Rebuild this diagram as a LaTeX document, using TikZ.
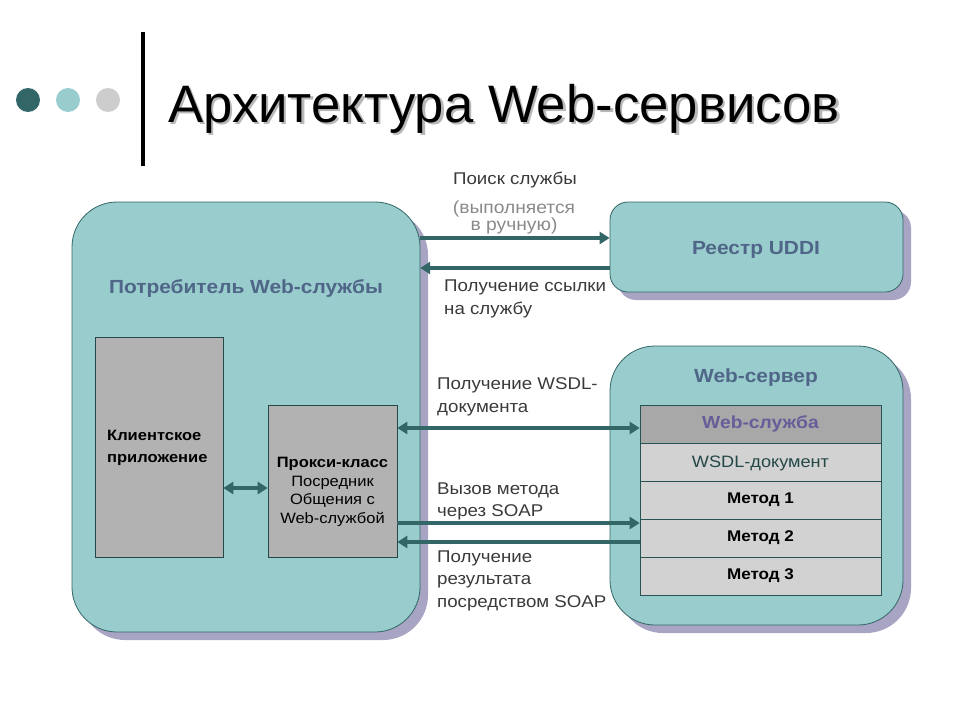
\documentclass[tikz,border=0pt]{standalone}
\usepackage{fontspec}
\setmainfont{Liberation Sans}
\newfontfamily\widefont[FakeStretch=1.1]{Liberation Sans}
\usetikzlibrary{arrows.meta}
\definecolor{tealfill}{HTML}{99CCCC}
\definecolor{tealdark}{HTML}{336666}
\definecolor{shadowc}{HTML}{A8A4C4}
\definecolor{slate}{HTML}{4F6688}
\definecolor{boxgray}{HTML}{B2B2B2}
\definecolor{rowgray}{HTML}{D2D2D2}
\definecolor{rowdark}{HTML}{A8A8A8}
\definecolor{purpletxt}{HTML}{665E99}
\definecolor{lbl}{HTML}{3A3A3A}
\definecolor{lbllight}{HTML}{8A8A8A}
\definecolor{dotgray}{HTML}{CCCCCC}
\definecolor{dotlight}{HTML}{99CCCC}
\definecolor{dotdark}{HTML}{336666}
\tikzset{
  bigbox/.style={draw=tealdark, line width=0.8pt, fill=tealfill},
  graybox/.style={draw=tealdark!70!black, line width=0.6pt, fill=boxgray, inner sep=0pt},
  rowbox/.style={draw=tealdark!80!black, line width=0.6pt, fill=rowgray, minimum width=241pt, minimum height=38pt, inner sep=0pt},
  conn/.style={draw=tealdark, line width=3.8pt, -{Triangle[length=10pt,width=12pt]}},
  dconn/.style={draw=tealdark, line width=3.8pt, {Triangle[length=10pt,width=12pt]}-{Triangle[length=10pt,width=12pt]}},
  lbltext/.style={text=lbl, font=\widefont\fontsize{17}{22.5}\selectfont, align=left, inner sep=0pt},
  headtext/.style={text=slate, font=\widefont\fontsize{19}{22}\selectfont\bfseries, inner sep=0pt},
  rowtext/.style={font=\widefont\fontsize{15.5}{20}\selectfont\bfseries, inner sep=0pt},
}
\begin{document}
\begin{tikzpicture}[x=1pt,y=-1pt]
\useasboundingbox[fill=white] (0,0) rectangle (960,720);
% header
\fill[dotdark] (28,100) circle (12);
\fill[dotlight] (68,100) circle (12);
\fill[dotgray] (108,100) circle (12);
\draw[line width=4pt] (143,32) -- (143,166);
\node (title) [anchor=base west, text=black, font=\fontsize{52.7}{56}\selectfont, inner sep=0pt] at (168,122)
  {\rlap{\hspace{2.5pt}\raisebox{-2.5pt}{\color{black!28}Архитектура Web-сервисов}}Архитектура Web-сервисов};

% consumer box
\fill[shadowc, rounded corners=45pt] (80,210) rectangle (428,640);
\path[bigbox, rounded corners=45pt] (72,202) rectangle (420,632);
\node (consumer) [minimum width=348pt, minimum height=430pt, inner sep=0pt] at (246,417) {};
\node (consumerlbl) [headtext] at (246,288) {Потребитель Web-службы};
\node (client) [graybox, minimum width=128pt, minimum height=220pt] at (159,447) {};
\node (clientlbl) [anchor=west, align=left, font=\widefont\fontsize{15}{22}\selectfont\bfseries, inner sep=0pt] at (107,448) {Клиентское\\приложение};
\node (proxy) [graybox, minimum width=129pt, minimum height=152pt] at (332.5,481) {};
\node (proxylbl) [align=center, font=\widefont\fontsize{15}{18.7}\selectfont, inner sep=0pt] at (332.5,492) {\textbf{Прокси-класс}\\Посредник\\Общения с\\Web-службой};

% UDDI box
\fill[shadowc, rounded corners=18pt] (618,210) rectangle (911,300);
\node (uddi) [bigbox, rounded corners=18pt, minimum width=293pt, minimum height=90pt, inner sep=0pt] at (756.5,247) {};
\node (uddilbl) [headtext] at (756,250) {Реестр UDDI};

% web server box
\fill[shadowc, rounded corners=45pt] (618,354) rectangle (911,633);
\node (server) [bigbox, rounded corners=45pt, minimum width=293pt, minimum height=279pt, inner sep=0pt] at (756.5,485.5) {};
\node (serverlbl) [headtext] at (756,378) {Web-сервер};
\node (ws) [rowbox, fill=rowdark] at (760.5,424) {};
\node (wslbl) [text=purpletxt, font=\widefont\fontsize{17.5}{20}\selectfont\bfseries, inner sep=0pt] at (760.5,424) {Web-служба};
\node (wsdl) [rowbox] at (760.5,462) {};
\node (wsdllbl) [text=tealdark!70!black, font=\widefont\fontsize{16.5}{20}\selectfont, inner sep=0pt] at (760.5,463) {WSDL-документ};
\node (m1) [rowbox] at (760.5,500) {};
\node (m1lbl) [rowtext] at (760.5,500) {Метод 1};
\node (m2) [rowbox] at (760.5,538) {};
\node (m2lbl) [rowtext] at (760.5,538) {Метод 2};
\node (m3) [rowbox] at (760.5,576) {};
\node (m3lbl) [rowtext] at (760.5,576) {Метод 3};

% connectors
\draw[conn] (consumer.east |- 0,238) -- (uddi.west |- 0,238);
\draw[conn] (uddi.west |- 0,268) -- (consumer.east |- 0,268);
\draw[dconn] (client.east |- 0,488) -- (proxy.west |- 0,488);
\draw[dconn] (proxy.east |- 0,428) -- (ws.west |- 0,428);
\draw[conn] (proxy.east |- 0,523) -- (m2.west |- 0,523);
\draw[conn] (m2.west |- 0,542) -- (proxy.east |- 0,542);

% labels
\node (l1) [lbltext, anchor=center] at (515,180) {Поиск службы};
\node (l2) [text=lbllight, font=\widefont\fontsize{17.5}{17}\selectfont, align=center, inner sep=0pt] at (514,217.5) {(выполняется\\в ручную)};
\node (l3) [lbltext, anchor=north west, font=\widefont\fontsize{17}{23}\selectfont] at (444,279.5) {Получение ссылки\\на службу};
\node (l4) [lbltext, anchor=north west, font=\widefont\fontsize{17}{23}\selectfont] at (437,377.5) {Получение WSDL-\\документа};
\node (l5) [lbltext, anchor=north west] at (437,482.5) {Вызов метода\\через SOAP};
\node (l6) [lbltext, anchor=north west] at (437,550.5) {Получение\\результата\\посредством SOAP};
\end{tikzpicture}
\end{document}
